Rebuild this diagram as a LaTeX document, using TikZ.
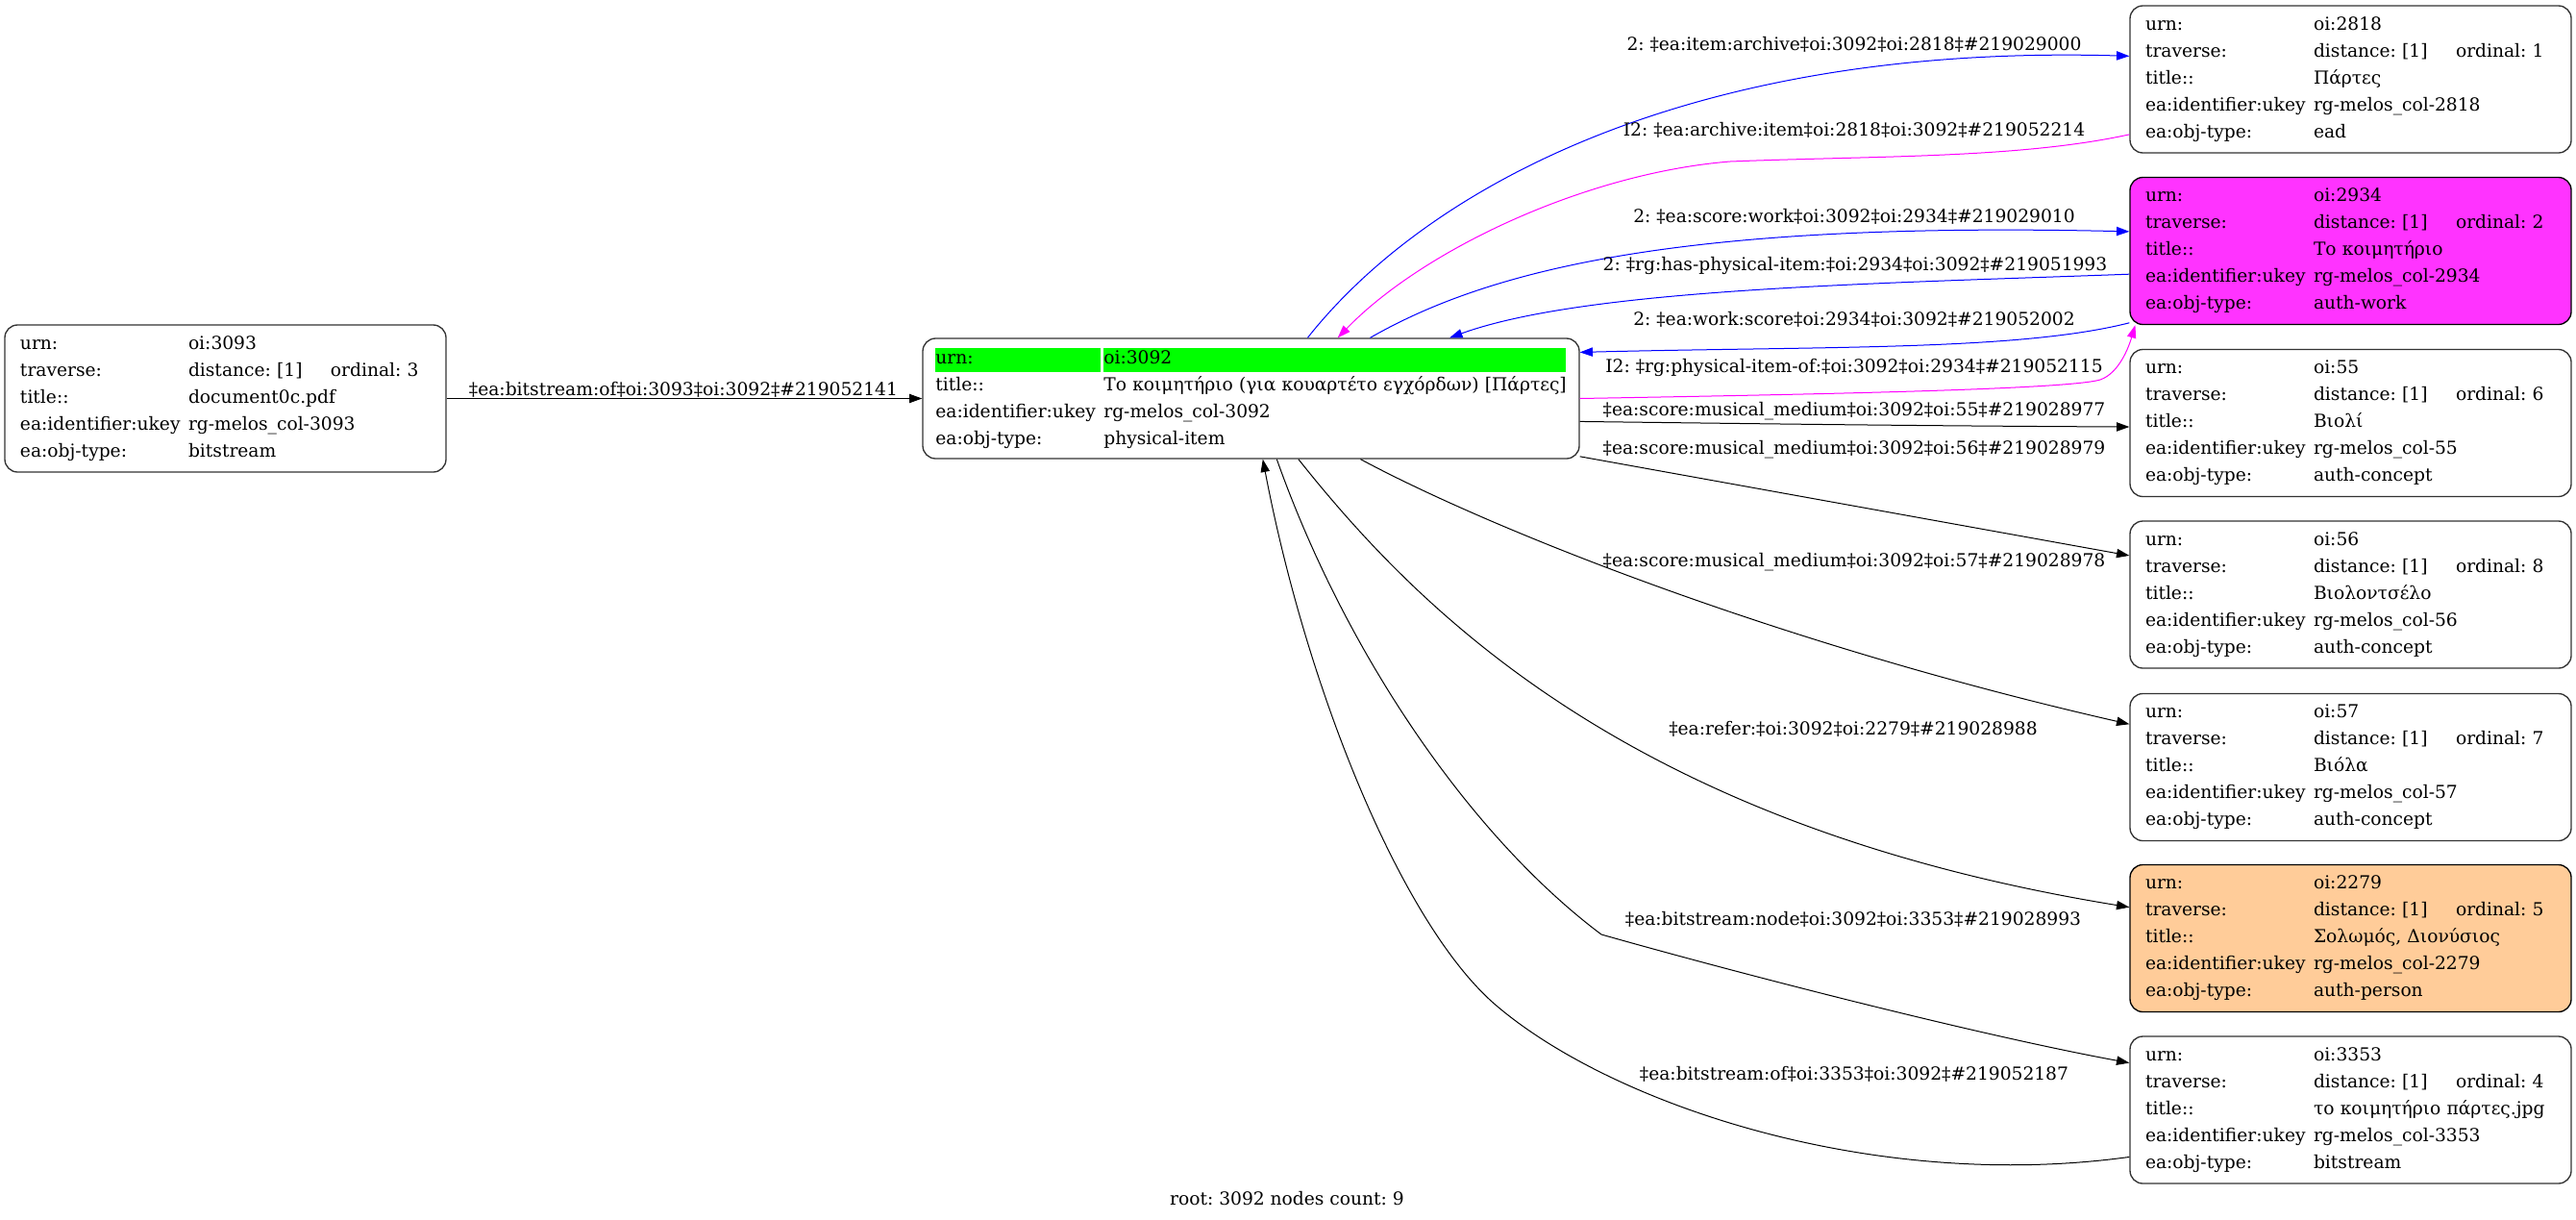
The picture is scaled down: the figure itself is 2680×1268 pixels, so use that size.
\documentclass[tikz,border=0pt]{standalone}
\usepackage{fontspec}
\setmainfont{DejaVu Serif}
\usetikzlibrary{arrows.meta}
\definecolor{hlgreen}{HTML}{00FF00}
\definecolor{workfill}{HTML}{FF33FF}
\definecolor{personfill}{HTML}{FFCC99}
\definecolor{edgemag}{HTML}{FF00FF}
\definecolor{edgeblue}{HTML}{0000FF}
\frenchspacing
\setlength{\fboxsep}{0pt}
\newcommand{\fld}[2]{\mbox{\makebox[131.25pt][l]{#1}#2}}
\newcommand{\trav}[1]{\fld{traverse:}{\makebox[111pt][l]{distance: [1]}ordinal: #1}}
\newcommand{\hlcell}[2]{\colorbox{hlgreen}{\makebox[#1][l]{\rule[-6pt]{0pt}{18.75pt}#2}}}
\tikzset{
  recbox/.style={draw=black!80, line width=1pt, rounded corners=10pt, align=left,
    text width=320.25pt, inner xsep=12pt, inner ysep=0pt,
    minimum width=344.25pt, minimum height=114.75pt},
  rootbox/.style={recbox, text width=492.25pt, inner xsep=10pt,
    minimum width=512.25pt, minimum height=93.75pt},
  link/.style={-{Triangle[length=10pt,width=7pt]}, line width=0.75pt},
}
\begin{document}
\begin{tikzpicture}[x=0.75pt, y=-0.75pt, font=\fontsize{14pt}{21pt}\selectfont]
\useasboundingbox (0,0) rectangle (2680,1268);
\node[recbox] (n3093) at (234.5,414.5) {\fld{urn:}{oi:3093}\\
  \trav{3}\\
  \fld{title::}{document0c.pdf}\\
  \fld{ea:identifier:ukey}{rg-melos\_col-3093}\\
  \fld{ea:obj-type:}{bitstream}};
\node[rootbox] (n3092) at (1301.5,414.5) {\mbox{\hlcell{129pt}{urn:}\hspace{2.25pt}\hlcell{360.75pt}{oi:3092}}\\
  \fld{title::}{Το κοιμητήριο (για κουαρτέτο εγχόρδων) [Πάρτες]}\\
  \fld{ea:identifier:ukey}{rg-melos\_col-3092}\\
  \fld{ea:obj-type:}{physical-item}};
%% right column
\node[recbox] (n2818) at (2445.5,82.5) {\fld{urn:}{oi:2818}\\
  \trav{1}\\
  \fld{title::}{Πάρτες}\\
  \fld{ea:identifier:ukey}{rg-melos\_col-2818}\\
  \fld{ea:obj-type:}{ead}};
\node[recbox, fill=workfill, draw=black] (n2934) at (2445.5,261) {\fld{urn:}{oi:2934}\\
  \trav{2}\\
  \fld{title::}{Το κοιμητήριο}\\
  \fld{ea:identifier:ukey}{rg-melos\_col-2934}\\
  \fld{ea:obj-type:}{auth-work}};
\node[recbox] (n55) at (2445.5,440) {\fld{urn:}{oi:55}\\
  \trav{6}\\
  \fld{title::}{Βιολί}\\
  \fld{ea:identifier:ukey}{rg-melos\_col-55}\\
  \fld{ea:obj-type:}{auth-concept}};
\node[recbox] (n56) at (2445.5,618.5) {\fld{urn:}{oi:56}\\
  \trav{8}\\
  \fld{title::}{Βιολοντσέλο}\\
  \fld{ea:identifier:ukey}{rg-melos\_col-56}\\
  \fld{ea:obj-type:}{auth-concept}};
\node[recbox] (n57) at (2445.5,798) {\fld{urn:}{oi:57}\\
  \trav{7}\\
  \fld{title::}{Βιόλα}\\
  \fld{ea:identifier:ukey}{rg-melos\_col-57}\\
  \fld{ea:obj-type:}{auth-concept}};
\node[recbox, fill=personfill, draw=black] (n2279) at (2445.5,976) {\fld{urn:}{oi:2279}\\
  \trav{5}\\
  \fld{title::}{Σολωμός, Διονύσιος}\\
  \fld{ea:identifier:ukey}{rg-melos\_col-2279}\\
  \fld{ea:obj-type:}{auth-person}};
\node[recbox] (n3353) at (2445.5,1154.5) {\fld{urn:}{oi:3353}\\
  \trav{4}\\
  \fld{title::}{το κοιμητήριο πάρτες.jpg}\\
  \fld{ea:identifier:ukey}{rg-melos\_col-3353}\\
  \fld{ea:obj-type:}{bitstream}};
%% edges
\draw[link] (n3093.east) -- (n3092.west);
\node (l3093) at (711,405) {‡ea:bitstream:of‡oi:3093‡oi:3092‡\#219052141};
\draw[link, edgeblue] (n3092.47) .. controls (1480,200) and (1750,45) .. (n2818.174);
\node (l2818a) at (1929,46) {2: ‡ea:item:archive‡oi:3092‡oi:2818‡\#219029000};
\draw[link, edgemag] (n2818.194) .. controls (2100,165) and (1950,162) .. (1800,168)
  .. controls (1650,180) and (1480,260) .. (n3092.35);
\node (l2818b) at (1929,135) {I2: ‡ea:archive:item‡oi:2818‡oi:3092‡\#219052214};
\draw[link, edgeblue] (n3092.27) .. controls (1550,280) and (1750,230) .. (n2934.175);
\node (l2934a) at (1929,225) {2: ‡ea:score:work‡oi:3092‡oi:2934‡\#219029010};
\draw[link, edgeblue] (n2934.186) .. controls (1950,295) and (1650,300) .. (n3092.17);
\node (l2934b) at (1930,276) {2: ‡rg:has-physical-item:‡oi:2934‡oi:3092‡\#219051993};
\draw[link, edgeblue] (n2934.198) .. controls (2100,365) and (1900,360) .. (n3092.8);
\node (l2934c) at (1929,332) {2: ‡ea:work:score‡oi:2934‡oi:3092‡\#219052002};
\draw[link, edgemag] (n3092.east) .. controls (1900,410) and (2150,405) .. (2185,395)
  .. controls (2205,388) and (2215,360) .. (n2934.199);
\node (l2934d) at (1929,382) {I2: ‡rg:physical-item-of:‡oi:3092‡oi:2934‡\#219052115};
\draw[link] (n3092.-4) .. controls (1850,441) and (2000,443) .. (n55.181);
\node (l55) at (1929,428) {‡ea:score:musical\_medium‡oi:3092‡oi:55‡\#219028977};
\draw[link] (n3092.-10) -- (n56.170);
\node (l56) at (1929,468) {‡ea:score:musical\_medium‡oi:3092‡oi:56‡\#219028979};
\draw[link] (n3092.-29) .. controls (1550,550) and (1850,670) .. (n57.169);
\node (l57) at (1929,585) {‡ea:score:musical\_medium‡oi:3092‡oi:57‡\#219028978};
\draw[link] (n3092.-52) .. controls (1480,640) and (1700,860) .. (n2279.172);
\node (l2279) at (1928,758) {‡ea:refer:‡oi:3092‡oi:2279‡\#219028988};
\draw[link] (n3092.-67) .. controls (1400,680) and (1530,870) .. (1666,972)
  .. controls (1800,1010) and (2050,1075) .. (n3353.168);
\node (l3353a) at (1928,956) {‡ea:bitstream:node‡oi:3092‡oi:3353‡\#219028993};
\draw[link] (n3353.192) .. controls (1950,1240) and (1680,1150) .. (1558,1047)
  .. controls (1460,965) and (1360,720) .. (n3092.-79);
\node (l3353b) at (1929,1117) {‡ea:bitstream:of‡oi:3353‡oi:3092‡\#219052187};
\node (foot) at (1339,1247) {root: 3092 nodes count: 9};
\end{tikzpicture}
\end{document}
